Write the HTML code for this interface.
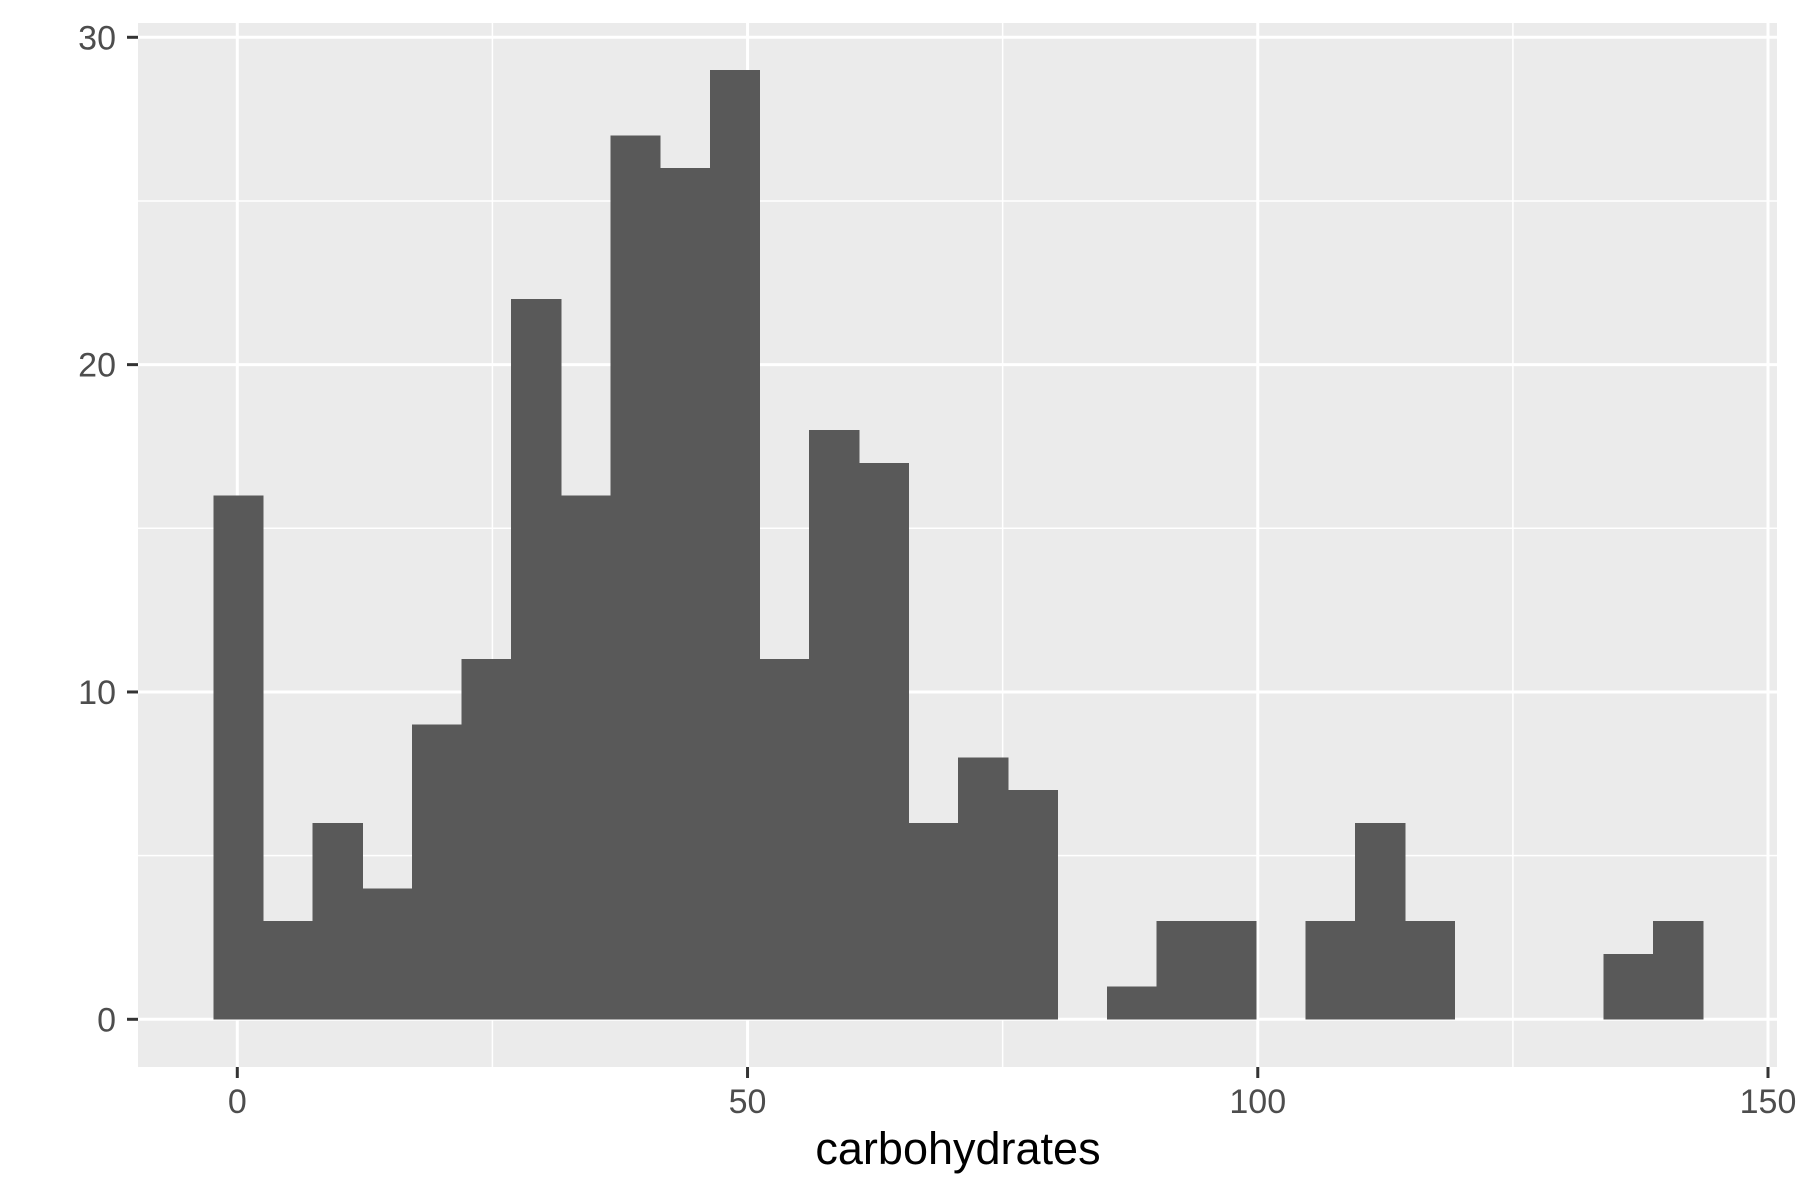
<!DOCTYPE html>
<html><head><meta charset="utf-8"><style>
html,body{margin:0;padding:0;background:#fff;}
svg{display:block;}
text{font-family:"Liberation Sans",sans-serif;}
</style></head><body>
<svg id="chart" width="1800" height="1200" viewBox="0 0 1800 1200" xmlns="http://www.w3.org/2000/svg">
<rect x="138" y="23" width="1639" height="1044" fill="#EBEBEB"/>
<g id="grid"></g>
<g id="bars" shape-rendering="crispEdges"></g>
<g id="axes"></g>
<text x="958" y="1164" font-size="45" text-anchor="middle" fill="#000">carbohydrates</text>
</svg>
<script>
const binStart = -2.35;
const binWidth = 4.865;
const counts = [16,3,6,4,9,11,22,16,27,26,29,11,18,17,6,8,7,0,1,3,3,0,3,6,3,0,0,0,2,3];
const xTicks = [0,50,100,150];
const xMinor = [25,75,125];
const yTicks = [0,10,20,30];
const yMinor = [5,15,25];

const PL=138, PR=1777, PT=23, PB=1067;
const X0=237.3, XS=(1768-237.3)/150;
const Y0=1019.3, YS=(1019.3-37.3)/30;
function sx(v){return X0+v*XS;}
function sy(v){return Y0-v*YS;}
const NS="http://www.w3.org/2000/svg";
function mk(tag,attrs,parent){const e=document.createElementNS(NS,tag);for(const k in attrs)e.setAttribute(k,attrs[k]);parent.appendChild(e);return e;}
const grid=document.getElementById('grid'), bars=document.getElementById('bars'), axes=document.getElementById('axes');

xMinor.forEach(v=>{const l=mk('line',{x1:sx(v),x2:sx(v),y1:PT,y2:PB,stroke:'#fff','stroke-width':1.5},grid);

});
yMinor.forEach(v=>{const l=mk('line',{x1:PL,x2:PR,y1:sy(v),y2:sy(v),stroke:'#fff','stroke-width':1.5},grid);

});
xTicks.forEach(v=>{const l=mk('line',{x1:sx(v),x2:sx(v),y1:PT,y2:PB,stroke:'#fff','stroke-width':3},grid);

});
yTicks.forEach(v=>{const l=mk('line',{x1:PL,x2:PR,y1:sy(v),y2:sy(v),stroke:'#fff','stroke-width':3},grid);

});

counts.forEach((c,i)=>{if(c<=0)return;
const x1=sx(binStart+i*binWidth), x2=sx(binStart+(i+1)*binWidth);
const r=mk('rect',{x:x1,y:sy(c),width:x2-x1+0.6,height:sy(0)-sy(c),fill:'#595959'},bars);

});

xTicks.forEach(v=>{
const t=mk('line',{x1:sx(v),x2:sx(v),y1:PB,y2:PB+11,stroke:'#333','stroke-width':3},axes);


const tx=mk('text',{x:sx(v),y:PB+46,'font-size':34,'text-anchor':'middle',fill:'#4D4D4D'},axes);
tx.textContent=v;

});
yTicks.forEach(v=>{
const t=mk('line',{x1:PL-11,x2:PL,y1:sy(v),y2:sy(v),stroke:'#333','stroke-width':3},axes);


const tx=mk('text',{x:116,y:sy(v)+12,'font-size':34,'text-anchor':'end',fill:'#4D4D4D'},axes);
tx.textContent=v;

});
</script>
</body></html>
